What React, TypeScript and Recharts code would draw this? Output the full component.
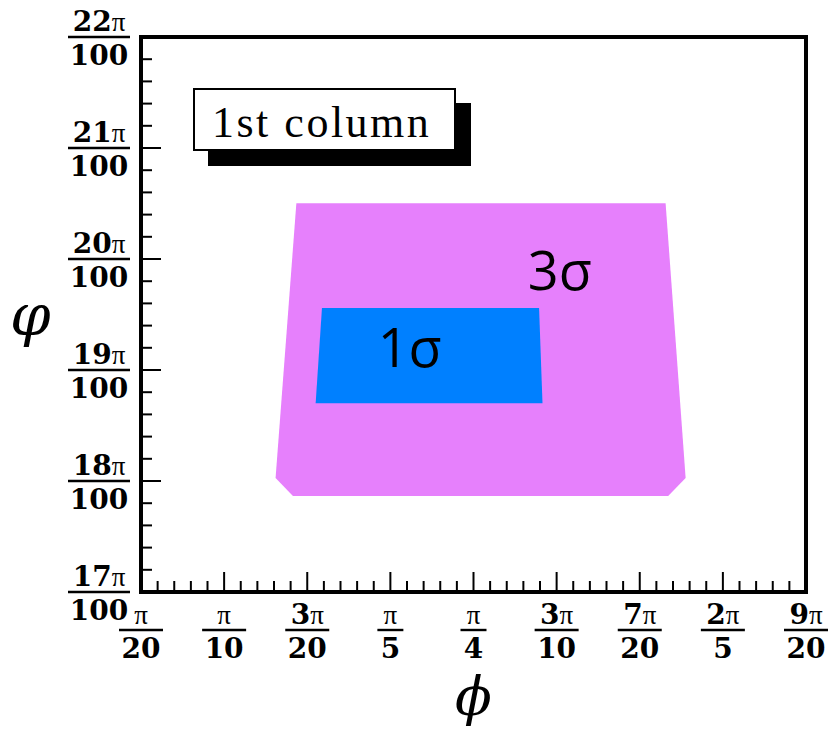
import { ComposedChart, Scatter, XAxis, YAxis, Legend } from "recharts"

// phi in units of pi/20, varphi in units of pi/100
const phiTicks = [1, 2, 3, 4, 5, 6, 7, 8, 9]
const phiTickLabels = [
  ["π", "20"],
  ["π", "10"],
  ["3π", "20"],
  ["π", "5"],
  ["π", "4"],
  ["3π", "10"],
  ["7π", "20"],
  ["2π", "5"],
  ["9π", "20"],
]
const varphiTicks = [17, 18, 19, 20, 21, 22]
const varphiTickLabels = [
  ["17π", "100"],
  ["18π", "100"],
  ["19π", "100"],
  ["20π", "100"],
  ["21π", "100"],
  ["22π", "100"],
]

// contour outlines (vertices)
const sigma3Phi = [2.869, 7.311, 7.552, 7.342, 2.828, 2.619]
const sigma3Varphi = [20.502, 20.502, 18.027, 17.865, 17.865, 18.027]
const sigma1Phi = [3.177, 5.789, 5.83, 3.101]
const sigma1Varphi = [19.559, 19.559, 18.7, 18.7]

const noteText = ["1σ", "3σ"]
const notePhi = [3.847, 5.653]
const noteVarphi = [19.027, 19.72]

const legendLabel = "1st column"

const sigma3 = sigma3Phi.map((x, i) => ({ x, y: sigma3Varphi[i] }))
const sigma1 = sigma1Phi.map((x, i) => ({ x, y: sigma1Varphi[i] }))
const notes = noteText.map((text, i) => ({ x: notePhi[i], y: noteVarphi[i], text }))

const withMinors = (majors: number[], n: number) => {
  const out: number[] = []
  for (let i = 0; i < majors.length - 1; i++) {
    for (let k = 0; k < n; k++) out.push(majors[i] + ((majors[i + 1] - majors[i]) * k) / n)
  }
  out.push(majors[majors.length - 1])
  return out
}
const majorIndex = (v: number, majors: number[]) => majors.findIndex((m) => Math.abs(m - v) < 1e-6)

const phiAllTicks = withMinors(phiTicks, 5)
const varphiAllTicks = withMinors(varphiTicks, 5)

const SERIF = "'DejaVu Serif', serif"
const MAJOR = 20
const MINOR = 11

function Fraction({ cx, barY, num, den }: { cx: number; barY: number; num: string; den: string }) {
  const chars = Math.max(num.length, den.length)
  const w = chars * 18 + 8
  const digits = num.replace("π", "")
  return (
    <g fontFamily={SERIF} fill="#000">
      <text x={cx} y={barY - 6} textAnchor="middle" fontSize={28}>
        <tspan fontWeight={700}>{digits}</tspan>
        <tspan fontWeight={400} fontSize={27} fontFamily="'Liberation Serif', serif">
          π
        </tspan>
      </text>
      <line x1={cx - w / 2} x2={cx + w / 2} y1={barY} y2={barY} stroke="#000" strokeWidth={2.4} />
      <text x={cx} y={barY + 28} textAnchor="middle" fontSize={28} fontWeight={700}>
        {den}
      </text>
    </g>
  )
}

const bottomTick = (props: any) => {
  const { x, y, payload } = props
  const mi = majorIndex(payload.value, phiTicks)
  const [num, den] = mi >= 0 ? phiTickLabels[mi] : ["", ""]
  return (
    <g>
      <line x1={x} x2={x} y1={y} y2={y - (mi >= 0 ? MAJOR : MINOR)} stroke="#000" strokeWidth={2} />
      {mi >= 0 && <Fraction cx={x} barY={y + 38} num={num} den={den} />}
    </g>
  )
}

const topTick = (props: any) => {
  const { x, y, payload } = props
  const mi = majorIndex(payload.value, phiTicks)
  return <line x1={x} x2={x} y1={y} y2={y + (mi >= 0 ? MAJOR : MINOR)} stroke="#000" strokeWidth={2} />
}

const leftTick = (props: any) => {
  const { x, y, payload } = props
  const mi = majorIndex(payload.value, varphiTicks)
  const [num, den] = mi >= 0 ? varphiTickLabels[mi] : ["", ""]
  const w = Math.max(num.length, den.length) * 18 + 8
  return (
    <g>
      <line x1={x} x2={x + (mi >= 0 ? MAJOR : MINOR)} y1={y} y2={y} stroke="#000" strokeWidth={2} />
      {mi >= 0 && <Fraction cx={x - 11 - w / 2} barY={y} num={num} den={den} />}
    </g>
  )
}

const rightTick = (props: any) => {
  const { x, y, payload } = props
  const mi = majorIndex(payload.value, varphiTicks)
  return <line x1={x} x2={x - (mi >= 0 ? MAJOR : MINOR)} y1={y} y2={y} stroke="#000" strokeWidth={2} />
}

const filledOutline = (color: string) => (props: any) => {
  const pts: { x: number; y: number }[] = props.points ?? []
  const d = pts.map((p, i) => `${i ? "L" : "M"}${p.x},${p.y}`).join("") + "Z"
  return <path d={d} fill={color} stroke="none" />
}

const noShape = () => <g />

const noteShape = (props: any) => (
  <text x={props.cx} y={props.cy} fontFamily="'Open Sans', 'Noto Sans', sans-serif" fontSize={54} fill="#000">
    {props.payload.text}
  </text>
)

const frame = { stroke: "#000", strokeWidth: 4, strokeLinecap: "square" as const }

const LegendBox = () => (
  <div
    style={{
      width: 263,
      height: 63,
      boxSizing: "border-box",
      border: "2px solid #000",
      background: "#fff",
      boxShadow: "15px 15px 0 #000",
      fontFamily: "'Liberation Serif', serif",
      fontSize: 44,
      lineHeight: "66px",
      paddingLeft: 17,
      letterSpacing: 2.5,
      whiteSpace: "nowrap",
      color: "#000",
    }}
  >
    {legendLabel}
  </div>
)

export default function App() {
  return (
    <div style={{ position: "absolute", left: 0, top: 0, width: 831, height: 729 }}>
      <ComposedChart width={831} height={729} margin={{ top: 0, right: 0, bottom: 0, left: 0 }}>
        <XAxis
          xAxisId="b"
          type="number"
          dataKey="x"
          orientation="bottom"
          domain={[1, 9]}
          ticks={phiAllTicks}
          interval={0}
          height={137}
          tickSize={0}
          tickMargin={0}
          tickLine={false}
          axisLine={frame}
          tick={bottomTick}
          label={{
            value: "ϕ",
            position: "insideBottom",
            offset: 14,
            style: { fontFamily: SERIF, fontStyle: "italic", fontSize: 54, fill: "#000" },
          }}
        />
        <XAxis
          xAxisId="t"
          type="number"
          orientation="top"
          domain={[1, 9]}
          ticks={phiAllTicks}
          interval={0}
          height={37}
          tickSize={0}
          tickMargin={0}
          tickLine={false}
          axisLine={frame}
          tick={topTick}
        />
        <YAxis
          yAxisId="l"
          type="number"
          dataKey="y"
          orientation="left"
          domain={[17, 22]}
          ticks={varphiAllTicks}
          interval={0}
          width={141}
          tickSize={0}
          tickMargin={0}
          tickLine={false}
          axisLine={frame}
          tick={leftTick}
          label={{
            value: "φ",
            position: "insideLeft",
            offset: 10,
            style: { fontFamily: SERIF, fontStyle: "italic", fontSize: 58, fill: "#000" },
          }}
        />
        <YAxis
          yAxisId="r"
          type="number"
          orientation="right"
          domain={[17, 22]}
          ticks={varphiAllTicks}
          interval={0}
          width={25}
          tickSize={0}
          tickMargin={0}
          tickLine={false}
          axisLine={frame}
          tick={rightTick}
        />
        <Scatter
          name="3σ"
          xAxisId="b"
          yAxisId="l"
          data={sigma3}
          fill="#E680FC"
          line={filledOutline("#E680FC")}
          shape={noShape}
          legendType="none"
          isAnimationActive={false}
        />
        <Scatter
          name="1σ"
          xAxisId="b"
          yAxisId="l"
          data={sigma1}
          fill="#0080FF"
          line={filledOutline("#0080FF")}
          shape={noShape}
          legendType="none"
          isAnimationActive={false}
        />
        <Scatter
          name="notes"
          xAxisId="b"
          yAxisId="l"
          data={notes}
          shape={noteShape}
          legendType="none"
          isAnimationActive={false}
        />
        <Legend
          layout="horizontal"
          verticalAlign="middle"
          align="center"
          content={LegendBox}
          wrapperStyle={{ left: 193, top: 88, width: 263, height: 63 }}
        />
      </ComposedChart>
    </div>
  )
}
